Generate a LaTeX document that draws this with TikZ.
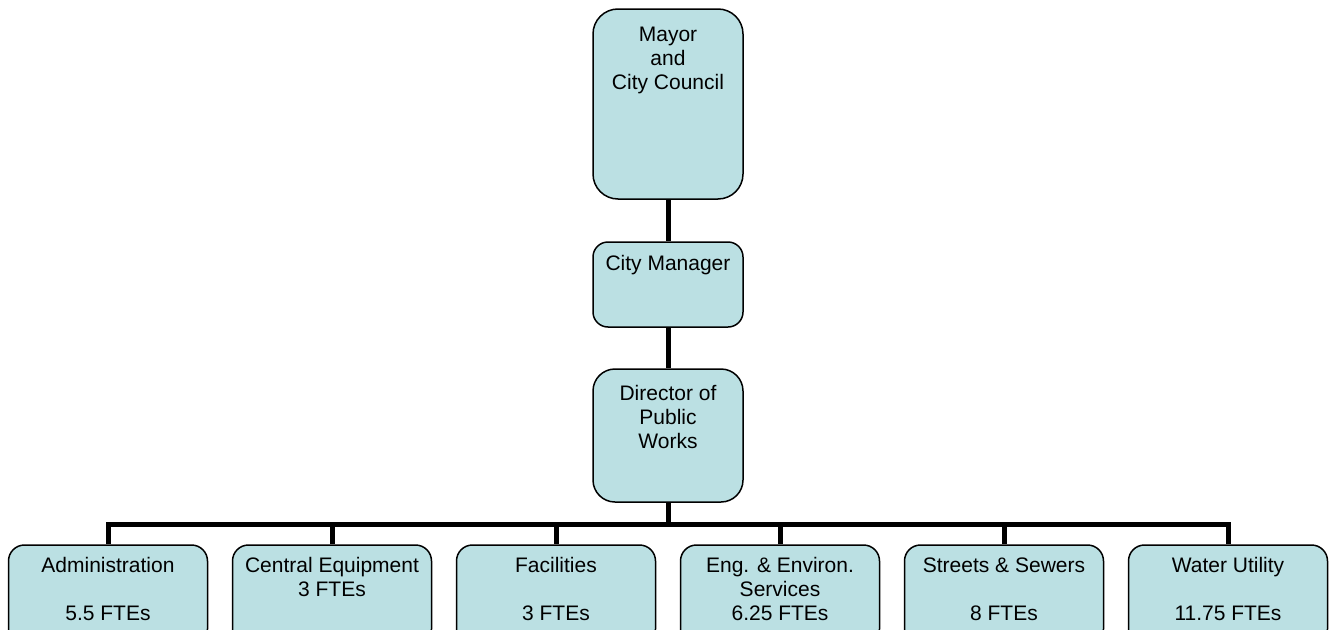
\documentclass[tikz,border=0pt]{standalone}
\usepackage{fontspec}
\setmainfont{Liberation Sans}
\definecolor{boxfill}{RGB}{187,224,227}
\begin{document}
\begin{tikzpicture}[x=1pt,y=-1pt,
  box/.style={draw=black, line width=1.5pt, fill=boxfill, rounded corners=#1, inner sep=0pt},
  box/.default=16pt,
  txt/.style={font=\fontsize{21}{24}\selectfont, align=center, inner sep=0pt, anchor=base},
  conn/.style={draw=black, line width=5pt}]
\useasboundingbox (0,0) rectangle (1330,629);
\clip (0,0) rectangle (1330,629);
% top chain
\node[box=25pt, minimum width=150pt, minimum height=190pt] (mayor) at (668,104) {};
\node[txt] (mayorT) at (668,89) {Mayor\\and\\City Council};
\node[box=15pt, minimum width=150pt, minimum height=85pt] (cm) at (668,284.5) {};
\node[txt] (cmT) at (668,270) {City Manager};
\node[box=22pt, minimum width=150pt, minimum height=133pt] (dir) at (668,435.5) {};
\node[txt] (dirT) at (668,448) {Director of\\Public\\Works};
% bottom row
\node[box, minimum width=199pt, minimum height=100pt] (b1) at (108,595) {};
\node[box, minimum width=199pt, minimum height=100pt] (b2) at (332,595) {};
\node[box, minimum width=199pt, minimum height=100pt] (b3) at (556,595) {};
\node[box, minimum width=199pt, minimum height=100pt] (b4) at (780,595) {};
\node[box, minimum width=199pt, minimum height=100pt] (b5) at (1004,595) {};
\node[box, minimum width=199pt, minimum height=100pt] (b6) at (1228,595) {};
\node[txt] (b1T) at (108,620) {Administration\\[24pt]5.5 FTEs};
\node[txt] (b2T) at (332,596) {Central Equipment\\3 FTEs};
\node[txt] (b3T) at (556,620) {Facilities\\[24pt]3 FTEs};
\node[txt] (b4T) at (780,620) {Eng. \& Environ.\\Services\\6.25 FTEs};
\node[txt] (b5T) at (1004,620) {Streets \& Sewers\\[24pt]8 FTEs};
\node[txt] (b6T) at (1228,620) {Water Utility\\[24pt]11.75 FTEs};
% connectors
\coordinate (bus) at (668,524);
\draw[conn] (mayor.south) -- (cm.north);
\draw[conn] (cm.south) -- (dir.north);
\draw[conn] (dir.south) -- (bus);
\draw[conn] (bus) -| (b1.north);
\draw[conn] (bus) -| (b2.north);
\draw[conn] (bus) -| (b3.north);
\draw[conn] (bus) -| (b4.north);
\draw[conn] (bus) -| (b5.north);
\draw[conn] (bus) -| (b6.north);
\end{tikzpicture}
\end{document}
